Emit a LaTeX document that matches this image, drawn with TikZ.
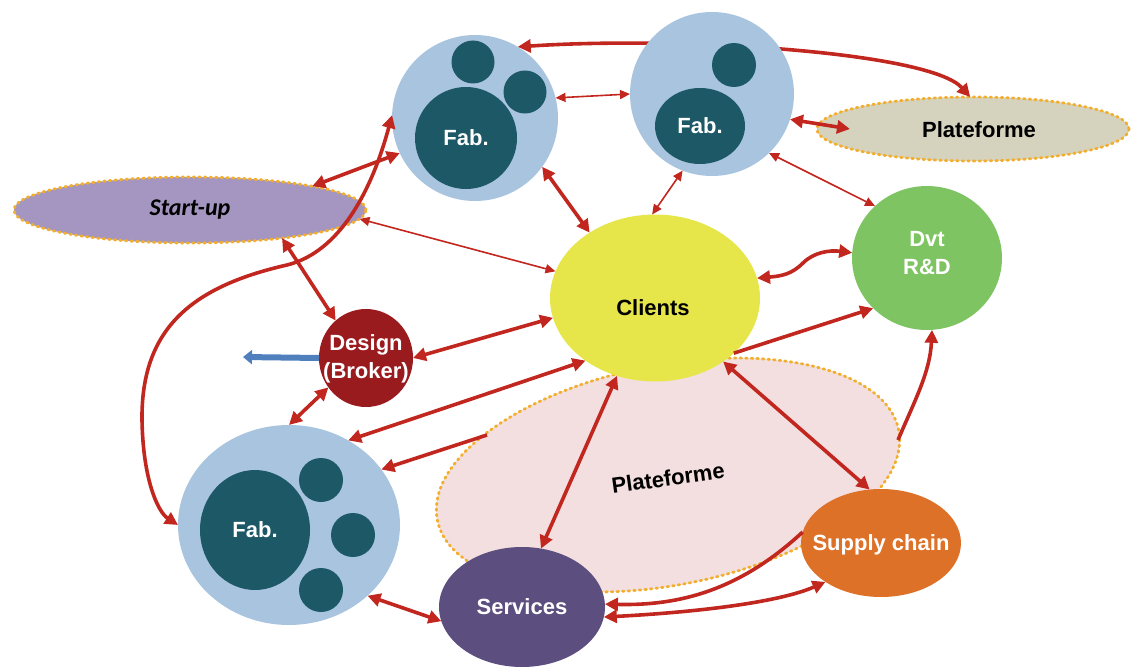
\documentclass[tikz,border=0pt]{standalone}
\usepackage{fontspec}
\setmainfont{Liberation Sans}
\newfontfamily\carlito{Carlito}
\usetikzlibrary{arrows.meta,shapes.geometric}
\definecolor{fabLight}{HTML}{A9C4DF}
\definecolor{fabDark}{HTML}{1C5866}
\definecolor{startC}{HTML}{A496C0}
\definecolor{platTopC}{HTML}{D5D3BE}
\definecolor{clientsC}{HTML}{E6E64B}
\definecolor{dvtC}{HTML}{7EC462}
\definecolor{designC}{HTML}{9A1B1E}
\definecolor{servC}{HTML}{5C4E7F}
\definecolor{supplyC}{HTML}{DE7128}
\definecolor{platPink}{HTML}{F3DFDF}
\definecolor{dotC}{HTML}{F2AE2E}
\definecolor{arred}{HTML}{C1271F}
\definecolor{blueC}{HTML}{4F7FBC}
\tikzset{
  every node/.style={inner sep=0pt, outer sep=0pt},
  circ/.style={circle, minimum size=#1},
  ell/.style 2 args={ellipse, minimum width=#1, minimum height=#2},
  dotb/.style={draw=dotC, line width=2.8pt, dash pattern=on 1.6pt off 4pt, line cap=round},
  lbl/.style={font=\bfseries\fontsize{22}{28}\selectfont, align=center},
  wlbl/.style={lbl, text=white},
  thk/.style={draw=arred, line width=3.6pt, arrows={Triangle[length=13pt,width=13pt]-Triangle[length=13pt,width=13pt]}},
  thkone/.style={draw=arred, line width=3.6pt, arrows={-Triangle[length=13pt,width=13pt]}},
  thn/.style={draw=arred, line width=1.6pt, arrows={Triangle[length=10pt,width=9pt]-Triangle[length=10pt,width=9pt]}}
}
\begin{document}
\begin{tikzpicture}[x=1pt,y=-1pt]
\useasboundingbox (0,0) rectangle (1136,669);
% background platform
\node[ell={470}{220}, fill=platPink, dotb, rotate=11] (platBig) at (668,475) {};
\node[lbl, rotate=8] (platBigT) at (668,478) {Plateforme};
% top-right platform
\node[ell={312}{64}, fill=platTopC, dotb] (platTop) at (973,129) {};
\node[lbl] (platTopT) at (979,130) {Plateforme};
% Fab top-left
\node[circ=166, fill=fabLight] (fabA) at (475,118) {};
\node[circ=102, fill=fabDark] (fabA1) at (466,138) {};
\node[circ=43, fill=fabDark] (fabA2) at (473,62) {};
\node[circ=43, fill=fabDark] (fabA3) at (525,92) {};
\node[wlbl] (fabAT) at (466,138) {Fab.};
% top curve behind fab B
\draw[thk] (fabA.59) .. controls (680,36) and (930,52) .. (platTop.95);
% Fab top-right
\node[circ=164, fill=fabLight] (fabB) at (712,94) {};
\node[ell={90}{76}, fill=fabDark] (fabB1) at (700,126) {};
\node[circ=44, fill=fabDark] (fabB2) at (734,65) {};
\node[wlbl] (fabBT) at (700,126) {Fab.};
% Fab bottom-left
\node[ell={222}{200}, fill=fabLight] (fabC) at (289,525) {};
\node[ell={110}{120}, fill=fabDark] (fabC1) at (255,530) {};
\node[circ=44, fill=fabDark] (fabC2) at (321,480) {};
\node[circ=44, fill=fabDark] (fabC3) at (353,535) {};
\node[circ=44, fill=fabDark] (fabC4) at (321,590) {};
\node[wlbl] (fabCT) at (255,530) {Fab.};
% Start-up
\node[ell={352}{66}, fill=startC, dotb] (startup) at (190,210) {};
\node[lbl, font=\carlito\bfseries\itshape\fontsize{24}{28}\selectfont] (startupT) at (190,210) {Start-up};
% Clients
\node[ell={210}{167}, fill=clientsC] (clients) at (655,298) {};
\node[lbl] (clientsT) at (653,308) {Clients};
% Dvt R&D
\node[ell={150}{144}, fill=dvtC] (dvt) at (927,258) {};
\node[wlbl] (dvtT) at (927,253) {Dvt\\R\&D};
% Design
\node[ell={94}{98}, fill=designC] (design) at (366,358) {};
\node[wlbl] (designT) at (366,359) {Design\\(Broker)};
% Services
\node[ell={166}{120}, fill=servC] (services) at (522,607) {};
\node[wlbl] (servicesT) at (522,607) {Services};
% Supply chain
\node[ell={160}{108}, fill=supplyC] (supply) at (881,543) {};
\node[wlbl] (supplyT) at (881,545) {Supply chain};
% free ends
\coordinate (blueEnd) at (243,357);
\coordinate (pA) at (487,435);
\coordinate (pB) at (898,440);
% connectors
\draw[thn] (fabA.14) -- (fabB.180);
\draw[thk] ([xshift=33pt]platTop.west) -- (fabB.-18);
\draw[thn] (fabB.-46) -- (dvt.135);
\draw[thn] (fabB.-111) -- (clients.92);
\draw[thk] (fabA.-36) -- (clients.135);
\draw[thk] (startup.11) -- (fabA.205);
\draw[thk] (fabA.178) .. controls (372,190) and (340,252) .. (287,265)
  .. controls (190,287) and (141,330) .. (142,420)
  .. controls (143,480) and (158,512) .. (fabC.180);
\draw[thk] (startup.-17) -- (design.129);
\draw[thn] (startup.-3) -- (clients.165);
\draw[thk] (design.0) -- (clients.191);
\draw[thk] (design.218) -- (fabC.90);
\draw[draw=blueC, line width=6pt, arrows={-Triangle[length=9pt,width=14pt]}] (design.180) -- (blueEnd);
\draw[thk] (clients.222) -- (fabC.55);
\draw[thkone] (pA) -- (fabC.31);
\draw[thk] (fabC.-42) -- (services.190);
\draw[thk] (clients.244) -- (services.72);
\draw[thk] (clients.-43) -- (supply.102);
\draw[thkone] (clients.-35.5) -- (dvt.223);
\draw[thk] (clients.11) .. controls (782,276) and (792,274) .. (803,263)
  .. controls (814,252) and (830,250) .. (dvt.176);
\draw[thkone] (pB) .. controls (915,400) and (930,372) .. (dvt.-86);
\draw[thkone] (supply.172) .. controls (740,590) and (680,606) .. (services.2);
\draw[thk] (services.-7) .. controls (700,612) and (780,602) .. (supply.215);
\end{tikzpicture}
\end{document}
